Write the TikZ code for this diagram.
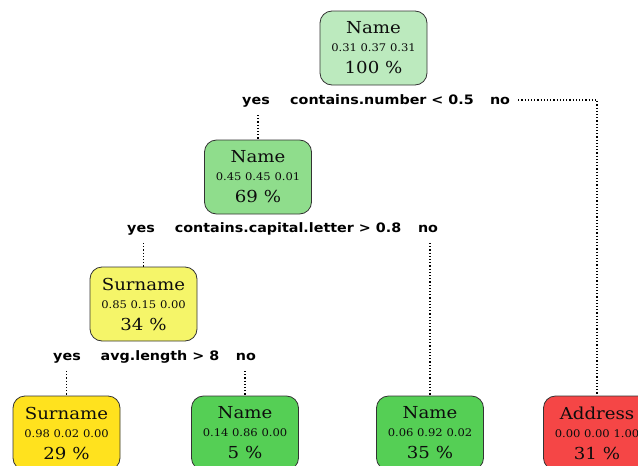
\documentclass[tikz,border=0pt]{standalone}
\usepackage{fontspec}
\usetikzlibrary{calc}
\newfontfamily\nodefont[FakeStretch=1.1]{DejaVu Serif}
\newfontfamily\labfont[FakeStretch=1.1]{DejaVu Sans}
\definecolor{crootc}{RGB}{188,234,190}
\definecolor{cntwo}{RGB}{143,221,140}
\definecolor{cnthree}{RGB}{245,245,105}
\definecolor{cleafy}{RGB}{255,226,30}
\definecolor{cleafg}{RGB}{85,207,85}
\definecolor{cleafr}{RGB}{245,70,70}
\newcommand\nbtext[3]{#1\\{\fontsize{10.5}{12}\selectfont #2}\\[4pt]#3}
\begin{document}
\begin{tikzpicture}[x=1pt,y=-1pt,
  box/.style={draw=black!80, line width=0.8pt, rounded corners=12pt,
    minimum width=107pt, minimum height=74pt, inner sep=0pt, align=center,
    text=black!95, font=\nodefont\fontsize{16.5}{18}\selectfont},
  lab/.style={font=\labfont\bfseries\fontsize{13}{15}\selectfont, inner sep=0pt, anchor=base},
  conn/.style={dotted, line width=1.2pt}]
\useasboundingbox (0,0) rectangle (638,466);
\clip (0,0) rectangle (638,466);
% nodes
\node[box, fill=crootc] (root) at (373.5,48) {\nbtext{Name}{0.31 0.37 0.31}{100 \%}};
\node[box, fill=cntwo] (n2) at (258,177) {\nbtext{Name}{0.45 0.45 0.01}{69 \%}};
\node[box, fill=cnthree] (n3) at (143.5,304) {\nbtext{Surname}{0.85 0.15 0.00}{34 \%}};
\node[box, fill=cleafy] (l1) at (66.5,433) {\nbtext{Surname}{0.98 0.02 0.00}{29 \%}};
\node[box, fill=cleafg] (l2) at (245,433) {\nbtext{Name}{0.14 0.86 0.00}{5 \%}};
\node[box, fill=cleafg] (l3) at (430,433) {\nbtext{Name}{0.06 0.92 0.02}{35 \%}};
\node[box, fill=cleafr] (l4) at (597,433) {\nbtext{Address}{0.00 0.00 1.00}{31 \%}};
% labels
\node[lab] (yes1) at (256,104) {yes};
\node[lab] (c1) at (382,104) {contains.number < 0.5};
\node[lab] (no1) at (500,104) {no};
\node[lab] (yes2) at (141,232) {yes};
\node[lab] (c2) at (288,232) {contains.capital.letter > 0.8};
\node[lab] (no2) at (428,232) {no};
\node[lab] (yes3) at (67,360) {yes};
\node[lab] (c3) at (160,360) {avg.length > 8};
\node[lab] (no3) at (246,360) {no};
% connectors
\draw[conn] ($(n2.north |- yes1.base)+(0,11)$) -- (n2.north);
\draw[conn] ($(no1.base east)+(8,-4)$) -| (l4.north);
\draw[conn] ($(n3.north |- yes2.base)+(0,11)$) -- (n3.north);
\draw[conn] ($(l3.north |- no2.base)+(0,11)$) -- (l3.north);
\draw[conn] ($(l1.north |- yes3.base)+(0,11)$) -- (l1.north);
\draw[conn] ($(l2.north |- no3.base)+(0,11)$) -- (l2.north);
\end{tikzpicture}
\end{document}
